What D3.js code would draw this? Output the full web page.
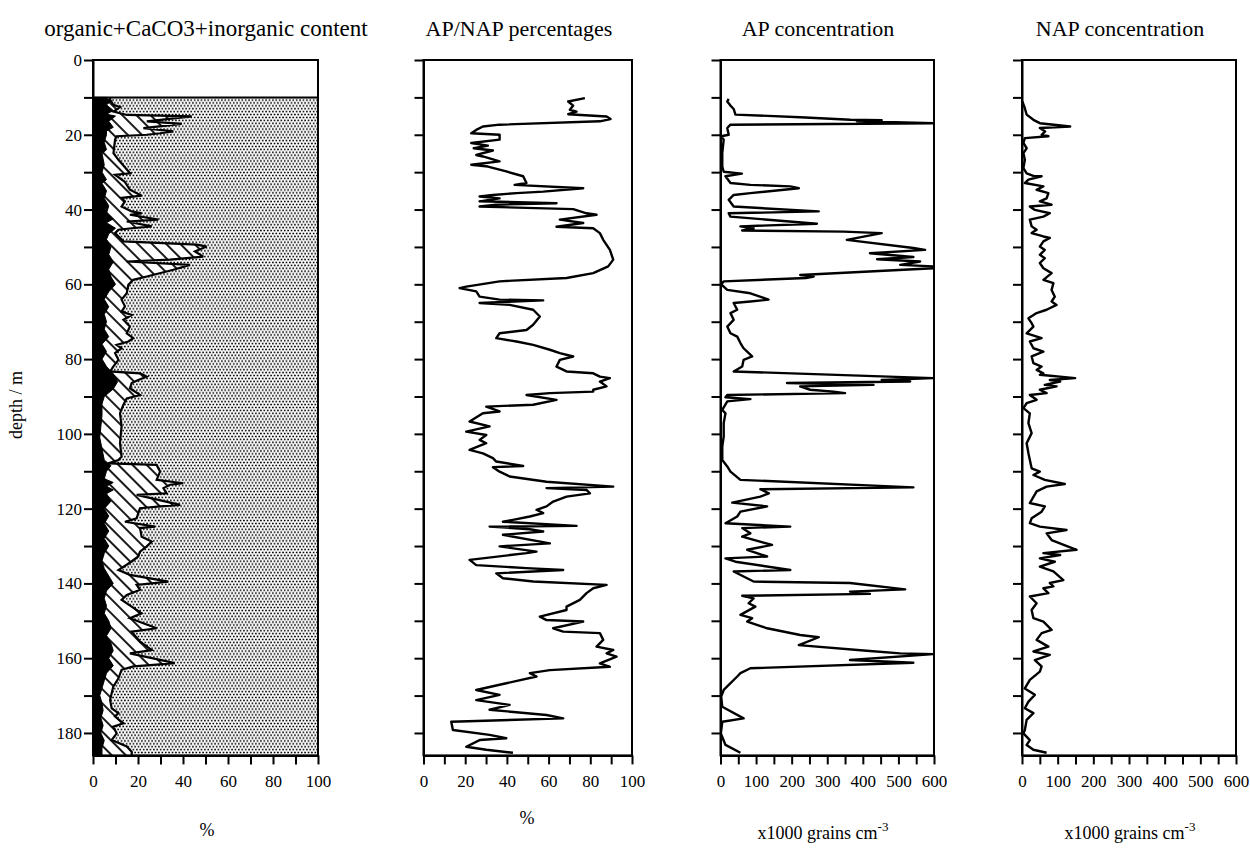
<!DOCTYPE html>
<html><head><meta charset="utf-8">
<script src="https://cdn.jsdelivr.net/npm/d3@7"></script>
<style>
body{margin:0;background:#fff}
svg{display:block}
text{font-family:"Liberation Serif","Times New Roman",serif;fill:#000}
</style>
</head><body>
<svg id="chart" width="1250" height="848"></svg>
<script>
// ---------------- DATA ----------------
const depthLabelTicks = [0,20,40,60,80,100,120,140,160,180];
const depthTicks = [0,10,20,30,40,50,60,70,80,90,100,110,120,130,140,150,160,170,180];
const pctLabelTicks = [0,20,40,60,80,100];
const pctTicks = [0,10,20,30,40,50,60,70,80,90,100];
const concLabelTicks = [0,100,200,300,400,500,600];
const concTicks = [0,50,100,150,200,250,300,350,400,450,500,550,600];
const panelTitles = ["organic+CaCO3+inorganic content","AP/NAP percentages","AP concentration","NAP concentration"];
const depthLabel = "depth / m";

// organic content (%), [depth m, value]
const organic = [[10,6],[11,8],[12,6],[13.5,9],[14.5,6],[15,10],[16.4,7],[18,9],[19,6],[20,6],[22,5],[24,6],[25,4],[28,5],[30,4],[32,6],[33,4],[35,6],[37,5],[39,7],[41,6],[42.5,9],[43.5,6],[45,10],[46.5,7],[48,6],[50,8],[52,7],[54,9],[56,7],[58,8],[60,10],[62,7],[64,5],[66,7],[68,5],[70,6],[72,5],[74,7],[76,4],[78,6],[80,4],[82,6],[84,9],[86,11],[88,9],[90,5],[92,4],[95,4],[98,3.5],[101,3],[104,4],[107,5],[108.5,8],[110,6],[112,5],[113,9],[114,6],[115,9],[116,6],[118,8],[120,5],[122,7],[124,5],[126,7],[128,5],[130,7],[132,5],[134,4],[136,5],[138,7],[140,9],[142,6],[144,5],[146,6],[148,5],[150,7],[152,8],[154,6],[156,8],[158,9],[160,7],[162,9],[164,6],[166,5],[168,4],[170,3],[172,4],[174,4.5],[176,3.5],[178,4.5],[180,3.5],[182,5],[184,4],[185.3,4]];

// organic + CaCO3 cumulative content (%), [depth m, value]
const organicCaCO3 = [[10,7.6],[10.6,7.6],[12,9],[12.6,12],[13.8,9.1],[14.7,15],[15.1,43.9],[16.4,23.9],[17.1,39.4],[18.2,22.4],[19.1,35.7],[19.6,29.8],[20,23.9],[20.4,10.5],[21.3,9.8],[24.9,9.1],[26.7,11.3],[30.3,16.5],[30.7,9.8],[32.5,14],[34.7,16.4],[36.3,21.6],[36.9,12.7],[37.8,14.2],[39.2,12.7],[40.5,17.2],[41,21.6],[41.4,16.4],[42.7,29],[43.2,15],[44.5,26.1],[45,17.2],[45.4,11.3],[46.3,9.8],[48.5,13.5],[49.4,46.1],[49.9,50.5],[51.2,45.3],[52.6,49],[53.4,34.2],[53.9,15],[54.8,43.1],[56.1,35.7],[57.9,23.9],[58.8,17.9],[60.1,15.7],[62.4,15],[64.1,12.7],[65.9,14.2],[67.3,12.7],[68.2,17.2],[69.5,13.5],[71.3,16.4],[73.1,15],[74.4,17.9],[75.3,15.7],[76.2,10.5],[77.1,12.7],[78.4,9.8],[80.2,11.3],[82,9],[83.3,7.6],[83.8,20.9],[84.7,23.9],[85.6,20.1],[86.4,17.2],[87.8,16.4],[89.6,20.9],[90.5,15],[92.2,13.5],[94.5,12],[98,12.7],[102.5,12],[106.1,12.7],[107,11.3],[107.9,6.8],[108.3,28.3],[110.1,29.8],[112.3,28.3],[113.2,40.1],[113.6,34.2],[114.5,31.3],[115.9,32.7],[116.3,19.4],[119,38.7],[119.4,29.8],[119.9,20.9],[121.2,20.1],[122.6,19.4],[123.5,14.2],[124.8,27.6],[125.2,20.9],[127.5,21.6],[128.8,26.1],[130.1,23.9],[131.5,20.9],[132.8,20.1],[134.2,17],[136.4,11.3],[137.7,16.4],[139.5,33.5],[140.4,19.4],[141.7,20.9],[143.1,15],[144.4,12.7],[148,21.6],[149.3,16.4],[152,28.3],[152.9,17.2],[155.6,20.9],[157.8,26.1],[158.7,16.4],[161.3,36.4],[161.8,26.8],[162.2,17.9],[163.1,12.7],[165.4,11.3],[167.6,9],[169.4,8.3],[171.2,7.6],[173.4,8.3],[174.7,11.3],[175.6,9.8],[177.4,13.5],[178.3,9],[180.1,10.5],[181.9,8.3],[183.6,15],[185,17.2]];

// AP/NAP percentages (AP %), [depth m, value]
const apNapPct = [[10.2,77.4],[11.1,69.4],[12.2,71.8],[13.3,70.2],[13.8,73.4],[14.5,69.4],[15.1,87.8],[15.8,89.7],[16.4,84.6],[17.3,36.5],[17.8,28.5],[18.7,25.3],[19.6,22.9],[20,36.5],[21.3,36.5],[22.2,22.9],[22.9,30.9],[23.6,24.1],[24.2,33.3],[25.4,25.3],[25.8,28.5],[27.1,36.5],[28,22.9],[28.5,30.9],[29.8,39.7],[31.1,47.8],[32.9,49.4],[33.4,43.7],[34.3,76.6],[35.2,57.4],[35.6,44.6],[36.1,33.3],[36.5,26.9],[37,36.5],[37.8,26.9],[38.3,63.8],[38.7,34.9],[39.2,26.9],[39.9,71.8],[41,78.2],[41.4,83],[42.7,65.4],[43.6,76.6],[44.6,63.8],[45,81.4],[46.3,84.6],[48.1,86.2],[50.8,89.4],[53.4,91],[55.2,88.6],[57,81.4],[58.3,68.6],[59.2,36.5],[60.6,20.5],[61,17.3],[61.9,25.3],[63.3,26.9],[64.1,36.5],[64.3,57.4],[65,26.9],[65.5,41.3],[66.8,52.6],[68.6,55.8],[70.8,52.6],[72.2,49.4],[73.1,36.5],[74.4,34.9],[75.3,44.6],[76.2,52.6],[77.5,60.6],[78.4,65.4],[79.3,71.8],[80.2,65.4],[82,63.8],[83.3,68.6],[83.8,81.4],[84.7,84.6],[85.1,89.4],[86,84.6],[87.3,87.8],[88.2,81.4],[88.7,81.4],[89.1,60.6],[89.6,49.4],[90.9,63.8],[92.2,52.6],[92.7,30.1],[94,36.5],[94.5,28.5],[96.7,22.1],[98,31.7],[99.4,20.5],[100.3,30.1],[101.6,26.9],[102.5,30.1],[104.3,22.1],[105.2,28.5],[106.5,33.3],[107.4,34.9],[108.6,47.8],[108.9,33.3],[110.1,36.5],[111.4,41.3],[112.8,59],[114.1,91],[114.5,59],[115,78.2],[115.9,79.8],[116.8,68.6],[118.1,62.2],[119.4,59],[120.3,54.2],[121.2,57.4],[122.1,51],[123,42.9],[123.5,38.1],[124.6,73.4],[124.8,31.7],[125.5,51],[126.1,57.4],[127,38.1],[129.3,60.6],[130.1,36.5],[131.5,54.2],[131.9,49.4],[133.7,22.1],[135.1,25.3],[135.9,49.4],[136.4,67],[137.3,34.9],[138.6,38.1],[139.5,52.6],[140.4,87.8],[141.3,81.4],[142.6,78.2],[144.4,75],[146.2,68.6],[147.1,68.6],[148.9,55.8],[149.8,59],[150.2,76.6],[152,62.2],[152.9,67],[153.3,84.6],[155.1,86.2],[156.9,83],[157.8,91],[158.7,87.8],[159.6,92.6],[161.4,84.6],[162.3,89.4],[163.2,60.6],[164,51],[164.9,54.2],[166.7,39.7],[168.5,25.3],[169.8,36.5],[171.2,25.3],[172.5,41.3],[173.8,31.7],[175.2,59],[176.1,67],[177,13.3],[179.2,14.1],[180.5,31.7],[181.4,39.7],[181.9,26.9],[183.7,20.5],[184.5,30.1],[185.3,42.9]];

// AP concentration (x1000 grains cm-3), [depth m, value]
const apConc = [[10.4,23],[11.1,19],[12.2,28],[13.1,37],[14.6,42],[15.3,224],[16,365],[16.1,453],[16.4,383],[16.9,598],[17.3,28],[18.2,19],[20,23],[20.4,2],[21.3,9],[24.9,5],[28.5,5],[29.9,9],[30.4,60],[31.1,14],[32.9,28],[33.4,84],[33.8,196],[34.3,220],[35.6,84],[36.1,37],[37.4,23],[39.2,37],[40.5,276],[41,23],[41.9,28],[43.8,271],[44.5,56],[45,93],[45.6,61],[45.9,346],[46.3,453],[48.1,355],[50.3,542],[50.8,575],[51.7,420],[52.7,542],[53.3,440],[53.9,561],[54.8,505],[55.2,598],[55.7,598],[57.5,224],[57.9,262],[58.3,240],[59.2,9],[60.1,2],[60.6,9],[61.5,19],[62.4,84],[64.1,135],[64.6,84],[65,37],[66.8,47],[67.7,28],[69.5,37],[71.3,19],[73.1,28],[74,47],[75.7,56],[77.1,65],[79.3,89],[80.2,65],[82,61],[83.3,37],[85.1,598],[85.6,453],[86,533],[86.4,187],[86.9,430],[87.3,224],[88.2,252],[88.7,318],[89.1,350],[89.6,19],[90.2,14],[90.7,84],[91.3,19],[93.6,5],[94.5,14],[97.1,9],[100.7,9],[103.4,5],[107,5],[108.7,19],[110.1,28],[112.3,56],[114.3,542],[114.8,112],[115.9,136],[116.8,112],[118.4,33],[119.4,131],[120.8,56],[122.1,47],[123.9,14],[124.8,196],[125.2,61],[126.6,84],[127.5,61],[129.7,145],[131,75],[132.8,131],[133.3,14],[134.2,42],[136.4,196],[136.8,37],[139.5,93],[139.9,364],[141.6,519],[142.2,364],[142.8,420],[143.3,61],[144,93],[145.3,79],[146.2,98],[148.4,56],[149.3,89],[150.2,75],[152,131],[153.8,224],[154.4,276],[156.5,220],[158,411],[158.7,505],[158.9,598],[160.5,364],[161.2,542],[162.7,84],[164,56],[164.9,47],[168.5,9],[170.3,2],[173,5],[176.1,65],[177,5],[180.1,1],[183.2,14],[185.3,56]];

// NAP concentration (x1000 grains cm-3), [depth m, value]
const napConc = [[11.1,1],[12.9,8],[14.6,13],[16,32],[16.9,50],[17.8,135],[18.2,50],[19.1,65],[20,55],[20.4,74],[20.9,8],[22.2,4],[23.6,13],[24.9,4],[26.7,8],[28.9,4],[30.3,13],[31,32],[31.1,55],[32,18],[32.9,8],[33.8,60],[34.7,41],[35.6,74],[37,69],[37.8,50],[38.7,83],[39.2,22],[40.1,36],[41,78],[41.9,60],[42.7,22],[44.5,27],[45.4,41],[46.3,27],[47.2,60],[47.6,78],[48.5,60],[49.9,50],[50.8,64],[52.1,50],[53,64],[54.3,50],[55.7,60],[57,83],[58.8,60],[59.7,88],[61.5,83],[63.3,92],[64.6,83],[65.5,97],[66.8,69],[67.7,41],[69.1,18],[70.4,27],[71.3,32],[73.1,13],[74.4,55],[75.3,22],[77.1,32],[78,60],[79.3,27],[81.1,32],[82,55],[82.9,41],[83.8,60],[84.2,50],[85.1,149],[85.6,78],[86,107],[86.9,64],[87.3,97],[88.2,50],[89.1,69],[89.6,22],[90.9,41],[91.8,13],[93.1,4],[94.5,22],[97.1,18],[99.8,27],[102.5,13],[105.2,18],[109.2,27],[110.1,50],[111,32],[112.3,64],[113.4,120],[114.1,69],[115.4,41],[118.5,22],[119.4,64],[120.8,55],[122.6,27],[123.9,22],[124.8,50],[125.7,125],[126.6,69],[128.4,83],[131,153],[131.9,60],[132.4,107],[133.3,50],[134.2,92],[135.5,50],[136.8,88],[139.1,116],[139.9,78],[140.8,88],[141.3,60],[142.6,74],[143.5,22],[145.3,41],[147.1,27],[149.3,32],[150.2,60],[152.4,83],[153.3,55],[155.1,41],[156.9,74],[158.2,32],[159.1,78],[160.5,36],[162.2,55],[163.6,50],[165.8,22],[168.1,8],[169.8,36],[171.6,18],[173.4,8],[174.7,32],[176.5,13],[179.2,8],[180.1,4],[181.9,22],[183.2,13],[184.5,32],[185.3,69]];

// ---------------- DRAWING ----------------
const svg = d3.select("#chart");
const TOP = 60, BOTTOM = 755.4, DEPTH_MAX = 186;
const y = d3.scaleLinear().domain([0, DEPTH_MAX]).range([TOP, BOTTOM]);

const defs = svg.append("defs");
const dots = defs.append("pattern").attr("id","dots").attr("patternUnits","userSpaceOnUse")
  .attr("width",3.4).attr("height",5.8);
dots.append("rect").attr("width",3.4).attr("height",5.8).attr("fill","#fff");
dots.append("circle").attr("cx",0.85).attr("cy",1.45).attr("r",0.95).attr("fill","#000");
dots.append("circle").attr("cx",2.55).attr("cy",4.35).attr("r",0.95).attr("fill","#000");

const hatch = defs.append("pattern").attr("id","hatch").attr("patternUnits","userSpaceOnUse")
  .attr("width",10).attr("height",10).attr("patternTransform","rotate(45)");
hatch.append("rect").attr("width",10).attr("height",10).attr("fill","#fff");
hatch.append("line").attr("x1",0).attr("y1",5).attr("x2",10).attr("y2",5)
  .attr("stroke","#000").attr("stroke-width",1.8);

const panels = [
  {x0:93,   x1:318,  dom:[0,100], ticks:pctTicks,  labels:pctLabelTicks,  titleX:206, showDepth:true},
  {x0:423.5,x1:632,  dom:[0,100], ticks:pctTicks,  labels:pctLabelTicks,  titleX:519},
  {x0:720.5,x1:934,  dom:[0,600], ticks:concTicks, labels:concLabelTicks, titleX:818},
  {x0:1022, x1:1236, dom:[0,600], ticks:concTicks, labels:concLabelTicks, titleX:1120}
];

panels.forEach((p,i) => {
  p.x = d3.scaleLinear().domain(p.dom).range([p.x0, p.x1]);
  const g = svg.append("g");
  p.g = g;
  svg.append("text").attr("x",p.titleX).attr("y",36).attr("text-anchor","middle")
    .style("font-size", i === 0 ? "23px" : "22px").text(panelTitles[i]);
  defs.append("clipPath").attr("id","clip"+i).append("rect")
    .attr("x",p.x0).attr("y",TOP).attr("width",p.x1-p.x0).attr("height",BOTTOM-TOP);
});

// ---- panel 1: stacked areas ----
(function(){
  const p = panels[0], x = p.x, g = p.g.append("g").attr("clip-path","url(#clip0)");
  const topDepth = organicCaCO3[0][0];
  g.append("rect").attr("x",x(0)).attr("y",y(topDepth)).attr("width",x(100)-x(0))
    .attr("height",y(DEPTH_MAX)-y(topDepth)).attr("fill","url(#dots)");
  const ext = arr => arr.concat([[DEPTH_MAX, arr[arr.length-1][1]]]);
  const area = d3.area().y(d=>y(d[0])).x0(x(0)).x1(d=>x(d[1])).curve(d3.curveLinear);
  g.append("path").datum(ext(organicCaCO3)).attr("d",area).attr("fill","url(#hatch)");
  g.append("path").datum(ext(organic)).attr("d",area).attr("fill","#000")
    .attr("stroke","#000").attr("stroke-width",1);
  const line = d3.line().y(d=>y(d[0])).x(d=>x(d[1]));
  g.append("path").datum(ext(organicCaCO3)).attr("d",line).attr("fill","none")
    .attr("stroke","#000").attr("stroke-width",2.2).attr("stroke-linejoin","miter").attr("stroke-miterlimit",3);
  g.append("line").attr("x1",x(0)).attr("x2",x(100)).attr("y1",y(topDepth)).attr("y2",y(topDepth))
    .attr("stroke","#000").attr("stroke-width",2);
})();

// ---- panels 2-4: curves ----
[apNapPct, apConc, napConc].forEach((series, k) => {
  const p = panels[k+1], x = p.x;
  const line = d3.line().y(d=>y(d[0])).x(d=>x(d[1]));
  p.g.append("g").attr("clip-path","url(#clip"+(k+1)+")")
    .append("path").datum(series).attr("d",line).attr("fill","none")
    .attr("stroke","#000").attr("stroke-width",2.4).attr("stroke-linejoin","round");
});

// ---- frames and axes ----
panels.forEach((p,i) => {
  p.g.append("rect").attr("x",p.x0).attr("y",TOP).attr("width",p.x1-p.x0).attr("height",BOTTOM-TOP)
    .attr("fill","none").attr("stroke","#000").attr("stroke-width",2);
  const yAxis = d3.axisLeft(y).tickValues(depthTicks).tickSize(9).tickSizeOuter(0).tickPadding(2)
    .tickFormat(d => (p.showDepth && depthLabelTicks.includes(d)) ? d : "");
  const ya = p.g.append("g").attr("transform",`translate(${p.x0},0)`).call(yAxis);
  const xAxis = d3.axisBottom(p.x).tickValues(p.ticks).tickSize(9).tickSizeOuter(0).tickPadding(11)
    .tickFormat(d => p.labels.includes(d) ? d : "");
  const xa = p.g.append("g").attr("transform",`translate(0,${BOTTOM})`).call(xAxis);
  [ya, xa].forEach(a => {
    a.attr("font-family",null);
    a.select(".domain").attr("stroke-width",2);
    a.selectAll(".tick line").attr("stroke-width",2);
    a.selectAll("text").style("font-family",'"Liberation Serif","Times New Roman",serif')
      .style("font-size","17px").attr("fill","#000");
  });
});

// ---- axis titles ----
svg.append("text").attr("transform","translate(22,405) rotate(-90)").attr("text-anchor","middle")
  .style("font-size","18px").text(depthLabel);
svg.append("text").attr("x",207).attr("y",836).attr("text-anchor","middle").style("font-size","18px").text("%");
svg.append("text").attr("x",527).attr("y",824).attr("text-anchor","middle").style("font-size","18px").text("%");
[823,1130].forEach(cx => {
  const t = svg.append("text").attr("x",cx).attr("y",839).attr("text-anchor","middle").style("font-size","18px");
  t.append("tspan").text("x1000 grains cm");
  t.append("tspan").attr("dy",-8).style("font-size","13px").text("-3");
});
</script>
</body></html>
